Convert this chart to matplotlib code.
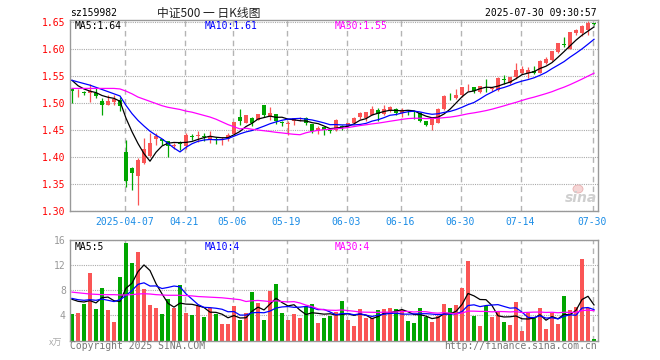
import numpy as np
import pandas as pd
import matplotlib
matplotlib.use("Agg")
import matplotlib.pyplot as plt
from matplotlib.patches import Ellipse

# ---------------- data (sz159982, daily) ----------------
opens = [1.5253, 1.5195, 1.5190, 1.5180, 1.5180, 1.5040, 1.4970, 1.5020, 1.5060, 1.4093,
         1.3800, 1.3648, 1.3883, 1.4018, 1.4327, 1.4328, 1.4303, 1.4200, 1.4245, 1.4204,
         1.4385, 1.4385, 1.4390, 1.4315, 1.4327, 1.4315, 1.4327, 1.4426, 1.4747, 1.4636,
         1.4722, 1.4685, 1.4970, 1.4747, 1.4797, 1.4636, 1.4618, 1.4673, 1.4716, 1.4722,
         1.4611, 1.4488, 1.4550, 1.4480, 1.4500, 1.4565, 1.4574, 1.4624, 1.4735, 1.4722,
         1.4784, 1.4870, 1.4796, 1.4846, 1.4880, 1.4808, 1.4850, 1.4838, 1.4808, 1.4660,
         1.4586, 1.4635, 1.4882, 1.5110, 1.5092, 1.5142, 1.5327, 1.5290, 1.5203, 1.5295,
         1.5262, 1.5240, 1.5430, 1.5364, 1.5475, 1.5561, 1.5561, 1.5586, 1.5561, 1.5747,
         1.5796, 1.5944, 1.6093, 1.6006, 1.6290, 1.6290, 1.6352, 1.6463]
highs = [1.5260, 1.5253, 1.5230, 1.5350, 1.5270, 1.5100, 1.5140, 1.5140, 1.5120, 1.4315,
         1.3810, 1.3981, 1.4352, 1.4438, 1.4450, 1.4330, 1.4303, 1.4254, 1.4290, 1.4438,
         1.4430, 1.4490, 1.4450, 1.4475, 1.4364, 1.4364, 1.4450, 1.4648, 1.4895, 1.4780,
         1.4735, 1.4800, 1.4970, 1.4932, 1.4797, 1.4673, 1.4660, 1.4722, 1.4735, 1.4735,
         1.4611, 1.4574, 1.4562, 1.4513, 1.4698, 1.4599, 1.4636, 1.4735, 1.4833, 1.4833,
         1.4944, 1.4907, 1.4970, 1.4944, 1.4907, 1.4907, 1.4870, 1.4858, 1.4833, 1.4673,
         1.4746, 1.4907, 1.5154, 1.5180, 1.5253, 1.5290, 1.5350, 1.5290, 1.5314, 1.5440,
         1.5303, 1.5475, 1.5512, 1.5487, 1.5747, 1.5685, 1.5673, 1.5685, 1.5796, 1.5858,
         1.5969, 1.6117, 1.6228, 1.6314, 1.6376, 1.6438, 1.6512, 1.6475]
lows = [1.5006, 1.5105, 1.5140, 1.5020, 1.5090, 1.4780, 1.4960, 1.4960, 1.4850, 1.3438,
        1.3380, 1.3105, 1.3870, 1.3994, 1.4230, 1.4216, 1.4006, 1.4142, 1.4130, 1.4140,
        1.4310, 1.4270, 1.4290, 1.4266, 1.4240, 1.4220, 1.4303, 1.4407, 1.4587, 1.4624,
        1.4575, 1.4685, 1.4747, 1.4685, 1.4611, 1.4575, 1.4410, 1.4587, 1.4660, 1.4587,
        1.4450, 1.4426, 1.4414, 1.4439, 1.4476, 1.4500, 1.4562, 1.4611, 1.4710, 1.4673,
        1.4772, 1.4673, 1.4772, 1.4833, 1.4784, 1.4746, 1.4771, 1.4697, 1.4648, 1.4574,
        1.4500, 1.4623, 1.4870, 1.5055, 1.5080, 1.5117, 1.5216, 1.5190, 1.5190, 1.5204,
        1.5216, 1.5228, 1.5352, 1.5360, 1.5450, 1.5537, 1.5463, 1.5537, 1.5549, 1.5722,
        1.5784, 1.5932, 1.6043, 1.5994, 1.6265, 1.6240, 1.6253, 1.6450]
closes = [1.5228, 1.5204, 1.5180, 1.5220, 1.5130, 1.4960, 1.5040, 1.5080, 1.4950, 1.3562,
          1.3710, 1.3944, 1.4142, 1.4253, 1.4390, 1.4290, 1.4204, 1.4210, 1.4235, 1.4414,
          1.4375, 1.4395, 1.4375, 1.4364, 1.4320, 1.4327, 1.4401, 1.4648, 1.4673, 1.4772,
          1.4624, 1.4797, 1.4784, 1.4810, 1.4661, 1.4630, 1.4624, 1.4722, 1.4722, 1.4636,
          1.4476, 1.4537, 1.4500, 1.4476, 1.4685, 1.4562, 1.4624, 1.4722, 1.4809, 1.4833,
          1.4895, 1.4796, 1.4883, 1.4920, 1.4820, 1.4858, 1.4845, 1.4833, 1.4660, 1.4586,
          1.4709, 1.4895, 1.5130, 1.5105, 1.5154, 1.5290, 1.5339, 1.5228, 1.5314, 1.5290,
          1.5268, 1.5463, 1.5426, 1.5487, 1.5610, 1.5635, 1.5610, 1.5561, 1.5780, 1.5821,
          1.5969, 1.6105, 1.6080, 1.6314, 1.6352, 1.6425, 1.6487, 1.6462]
# volume, x万
volume = [4.16, 4.32, 5.76, 10.72, 4.96, 8.32, 4.80, 2.88, 10.08, 15.52,
          12.32, 14.08, 8.16, 5.60, 5.12, 4.16, 6.56, 5.12, 8.80, 4.32,
          4.00, 5.44, 3.68, 5.12, 4.16, 2.56, 2.56, 5.44, 3.20, 4.32,
          7.68, 5.92, 3.20, 7.84, 8.96, 4.32, 3.20, 4.16, 3.52, 5.44,
          5.76, 2.72, 3.52, 3.84, 4.48, 6.24, 3.20, 2.24, 4.96, 3.52,
          3.52, 4.80, 4.96, 5.12, 4.96, 4.80, 3.04, 2.72, 5.12, 3.68,
          2.88, 3.84, 5.76, 5.12, 5.60, 8.32, 12.64, 3.84, 2.24, 5.44,
          3.68, 4.48, 2.88, 2.40, 6.08, 1.44, 4.32, 3.52, 5.12, 1.76,
          4.32, 2.56, 7.04, 4.80, 5.28, 12.96, 5.12, 0.16]

# moving averages at the left edge depend on days before the window
ma5_head = [1.542, 1.532, 1.526, 1.522]
ma10_head = [1.542, 1.539, 1.536, 1.533, 1.529, 1.525, 1.521, 1.517, 1.513]
ma30_head = [1.527, 1.527, 1.527, 1.527, 1.527, 1.527, 1.527, 1.527, 1.526, 1.522,
             1.517, 1.511, 1.507, 1.503, 1.499, 1.495, 1.492, 1.490, 1.488, 1.485,
             1.483, 1.480, 1.477, 1.474, 1.470, 1.465, 1.460, 1.456, 1.452]
vma5_head = [6.56, 6.24, 6.13, 6.35]
vma10_head = [6.7, 6.5, 6.4, 6.5, 6.4, 6.6, 6.4, 6.2, 6.5]
vma30_head = [7.7, 7.6, 7.5, 7.4, 7.35, 7.3, 7.3, 7.3, 7.25, 7.25,
              7.3, 7.4, 7.45, 7.4, 7.3, 7.25, 7.2, 7.2, 7.2, 7.15,
              7.1, 7.0, 6.95, 6.9, 6.85, 6.8, 6.7, 6.6, 6.5]

tick_idx = [9, 19, 27, 36, 46, 55, 65, 75, 87]
tick_labels = ["2025-04-07", "04-21", "05-06", "05-19", "06-03",
               "06-16", "06-30", "07-14", "07-30"]
price_ticks = [1.30, 1.35, 1.40, 1.45, 1.50, 1.55, 1.60, 1.65]
vol_ticks = [4, 8, 12, 16]

# ---------------- helpers ----------------
def ma(vals, n, head):
    out = pd.Series(vals).rolling(n).mean().to_numpy()
    out[:len(head)] = head
    return out

W, H = 660, 360
def fx(x):
    return x / W
def fy(y):
    return 1 - y / H

RED = "#fa5555"
GREEN = "#00a600"
MONO = "DejaVu Sans Mono"
FS = 7

o = np.array(opens); c = np.array(closes)
hi = np.array(highs); lo = np.array(lows)
v = np.array(volume)
x = np.arange(len(c))
up = c >= o
cols = np.where(up, RED, GREEN)

fig = plt.figure(figsize=(6.6, 3.6), dpi=100)
fig.patch.set_facecolor("white")

ax = fig.add_axes([fx(70), fy(211), 528 / W, 191 / H])
axv = fig.add_axes([fx(70), fy(340.5), 528 / W, 100.5 / H])

for a in (ax, axv):
    a.set_xlim(-1 / 3, 87 + 2 / 3)
    for s in a.spines.values():
        s.set_color("#999999")
        s.set_linewidth(1)
    a.set_axisbelow(True)
    a.set_xticks([i - 0.25 for i in tick_idx])
    a.grid(axis="x", color="#b4b4b4", linestyle=(0, (4, 3)), linewidth=1)
    a.grid(axis="y", color="#aaaaaa", linestyle=(0, (1, 1)), linewidth=0.8)
    a.tick_params(length=0)

# ---- price panel ----
ax.set_ylim(1.30, 1.6537)
ax.set_yticks(price_ticks)
ax.set_yticklabels(["%.2f" % p for p in price_ticks], color="red",
                   family=MONO, fontsize=FS)
ax.tick_params(axis="y", pad=3)
ax.set_xticklabels(tick_labels, color="#1a8ce6", family=MONO, fontsize=FS)
ax.tick_params(axis="x", pad=4)

ax.vlines(x, lo, hi, colors=cols, linewidth=0.9, zorder=2)
body = np.maximum(np.abs(c - o), 0.0015)
ax.bar(x, body, bottom=np.minimum(o, c), width=0.8, color=cols,
       linewidth=0, zorder=2)

ax.plot(x, ma(closes, 5, ma5_head), color="black", lw=0.9, zorder=3)
ax.plot(x, ma(closes, 10, ma10_head), color="#0000ff", lw=0.9, zorder=3)
ax.plot(x, ma(closes, 30, ma30_head), color="#ff00ff", lw=0.9, zorder=3)

# ---- volume panel ----
axv.set_ylim(0, 16)
axv.set_yticks(vol_ticks)
axv.set_yticklabels([str(t) for t in vol_ticks], color="#999999",
                    family=MONO, fontsize=FS)
axv.tick_params(axis="y", pad=3)
axv.set_xticklabels([])
axv.bar(x, v, width=0.8, color=cols, linewidth=0, zorder=2)
axv.plot(x, ma(volume, 5, vma5_head), color="black", lw=0.9, zorder=3)
axv.plot(x, ma(volume, 10, vma10_head), color="#0000ff", lw=0.9, zorder=3)
axv.plot(x, ma(volume, 30, vma30_head), color="#ff00ff", lw=0.9, zorder=3)

# ---- texts ----
fig.text(fx(70), fy(13), "sz159982", family=MONO, fontsize=FS, va="center")
fig.text(fx(209), fy(13), "中证500 一 日K线图", family=["Noto Sans CJK SC", "DejaVu Sans"],
         fontsize=8.5, va="center", ha="center", color="#222222")
fig.text(fx(597), fy(13), "2025-07-30 09:30:57", family=MONO, fontsize=FS,
         va="center", ha="right")

fig.text(fx(75), fy(26), "MA5:1.64", family=MONO, fontsize=FS, va="center")
fig.text(fx(205), fy(26), "MA10:1.61", family=MONO, fontsize=FS, va="center",
         color="#0000ff")
fig.text(fx(335), fy(26), "MA30:1.55", family=MONO, fontsize=FS, va="center",
         color="#ff00ff")
fig.text(fx(75), fy(247), "MA5:5", family=MONO, fontsize=FS, va="center")
fig.text(fx(205), fy(247), "MA10:4", family=MONO, fontsize=FS, va="center",
         color="#0000ff")
fig.text(fx(335), fy(247), "MA30:4", family=MONO, fontsize=FS, va="center",
         color="#ff00ff")

fig.text(fx(56), fy(343), "x万", family=["Noto Sans CJK SC", "DejaVu Sans"],
         fontsize=6.5, va="center", ha="center", color="#aaaaaa", style="italic")
fig.text(fx(70), fy(346), "Copyright 2025 SINA.COM", family=MONO, fontsize=FS,
         va="center", color="#777777")
fig.text(fx(597), fy(346), "http://finance.sina.com.cn", family=MONO, fontsize=FS,
         va="center", ha="right", color="#777777")

# sina watermark (eye logo + word)
fig.add_artist(Ellipse((fx(578), fy(189)), 10 / W, 8 / H, facecolor="#f5d5d5",
                       edgecolor="#e8b0b0", linewidth=0.6))
fig.text(fx(581), fy(198), "sina", fontsize=10, fontweight="bold", style="italic",
         color="#cfcfcf", ha="center", va="center")

fig.savefig("out.png", dpi=100)
